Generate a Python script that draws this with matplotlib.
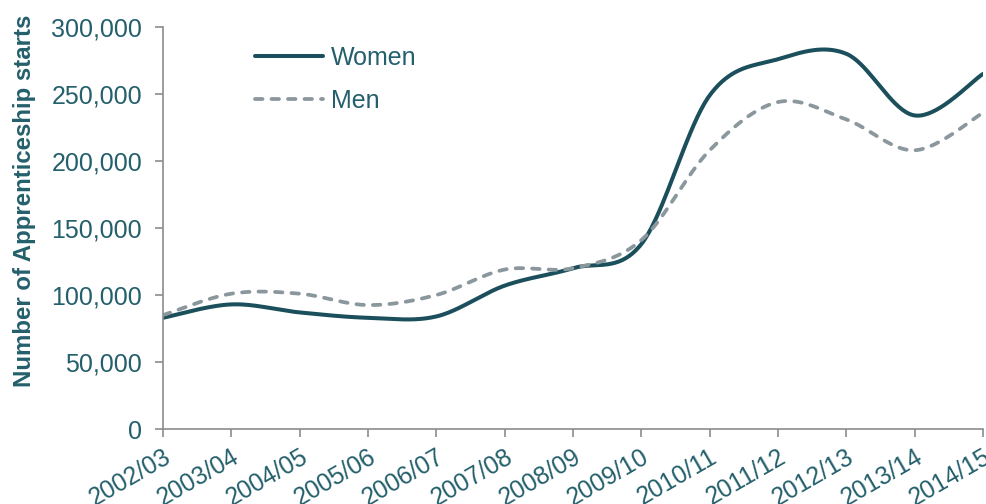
import numpy as np
import matplotlib.pyplot as plt
from matplotlib.ticker import FuncFormatter

years = ['2002/03', '2003/04', '2004/05', '2005/06', '2006/07', '2007/08', '2008/09',
         '2009/10', '2010/11', '2011/12', '2012/13', '2013/14', '2014/15']
women = [83000, 93000, 87000, 83000, 84000, 107000, 120000,
         138000, 249000, 276000, 280000, 234000, 265000]
men = [85000, 101000, 101000, 92500, 100000, 119000, 120000,
       141000, 208000, 244000, 231000, 208000, 236000]

teal = '#1c4f5c'
grey = '#8a979d'
txt = '#245f6c'
axcol = '#8c8c8c'


def smooth(x, y, steps=40):
    # cubic bezier through every point, control points from the neighbours
    x = np.asarray(x, float)
    y = np.asarray(y, float)
    n = len(x)
    xs, ys = [], []
    for i in range(n - 1):
        i0 = max(i - 1, 0)
        i3 = min(i + 2, n - 1)
        p0 = np.array([x[i], y[i]])
        p3 = np.array([x[i + 1], y[i + 1]])
        c1 = p0 + (p3 - np.array([x[i0], y[i0]])) / 6
        c2 = p3 - (np.array([x[i3], y[i3]]) - p0) / 6
        t = np.linspace(0, 1, steps)[:, None]
        pts = (1 - t) ** 3 * p0 + 3 * (1 - t) ** 2 * t * c1 + 3 * (1 - t) * t ** 2 * c2 + t ** 3 * p3
        if i > 0:
            pts = pts[1:]
        xs.extend(pts[:, 0])
        ys.extend(pts[:, 1])
    return xs, ys


plt.rcParams['font.family'] = ['Liberation Sans', 'DejaVu Sans']

fig = plt.figure(figsize=(9.86, 5.04), dpi=100)
ax = fig.add_axes([0.1653, 0.1488, 0.8317, 0.7976])

idx = np.arange(len(years))
wx, wy = smooth(idx, women)
mx, my = smooth(idx, men)
ax.plot(wx, wy, color=teal, lw=2.9, label='Women', solid_capstyle='round')
ax.plot(mx, my, color=grey, lw=2.7, dashes=(2.0, 2.4), dash_capstyle='round', label='Men')

ax.set_xlim(0, len(years) - 1)
ax.set_ylim(0, 300000)
ax.set_yticks(np.arange(0, 300001, 50000))
ax.yaxis.set_major_formatter(FuncFormatter(lambda v, p: f'{int(v):,}'))
ax.set_xticks(idx)
ax.set_xticklabels(years, rotation=30, ha='right', rotation_mode='anchor')

for s in ['top', 'right']:
    ax.spines[s].set_visible(False)
for s in ['left', 'bottom']:
    ax.spines[s].set_color(axcol)
    ax.spines[s].set_linewidth(1.2)
ax.tick_params(axis='both', colors=axcol, length=6, width=1.2, labelcolor=txt, labelsize=18)
ax.tick_params(axis='y', pad=9)
ax.tick_params(axis='x', pad=5, labelsize=17.8)

ax.set_ylabel('Number of Apprenticeship starts', fontsize=17.3, fontweight='bold', color=txt)
ax.yaxis.set_label_coords(-0.155, 0.567)

leg = ax.legend(loc='upper left', bbox_to_anchor=(0.112, 0.953), frameon=False,
                fontsize=18, handlelength=2.72, handletextpad=0.32, labelspacing=0.75,
                borderpad=0, borderaxespad=0)
for t in leg.get_texts():
    t.set_color(txt)

fig.savefig('out.png', dpi=100)
